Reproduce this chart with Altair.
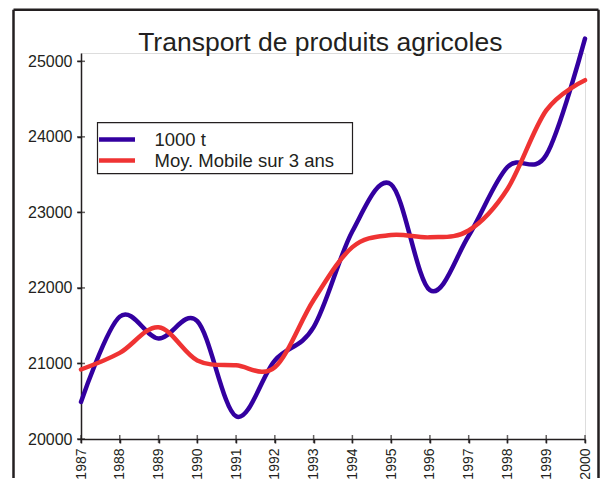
import altair as alt
import pandas as pd

TITLE = "Transport de produits agricoles"
YEARS = [1987, 1988, 1989, 1990, 1991, 1992, 1993, 1994, 1995, 1996, 1997, 1998, 1999, 2000]
TONNES = [20490, 21620, 21330, 21560, 20300, 21040, 21480, 22750, 23370, 21970, 22690, 23600, 23760, 25300]
MOY_MOBILE = [20920, 21140, 21480, 21040, 20975, 20950, 21840, 22540, 22700, 22670, 22760, 23310, 24350, 24750]
SERIES = ["1000 t", "Moy. Mobile sur 3 ans"]
COLORS = ["#3300A0", "#EF3333"]
Y_TICKS = [20000, 21000, 22000, 23000, 24000, 25000]

FONT = "Liberation Sans"
INK = "#231F20"
W, H = 504, 386

blue_df = pd.DataFrame({"year": YEARS, "value": TONNES, "series": SERIES[0]})
red_df = pd.DataFrame({"year": YEARS, "value": MOY_MOBILE, "series": SERIES[1]})

xscale = alt.Scale(domain=[YEARS[0], YEARS[-1]], nice=False, zero=False)
yscale = alt.Scale(domain=[20000, 25110], nice=False, zero=False)
cscale = alt.Scale(domain=SERIES, range=COLORS)

xaxis = alt.Axis(values=YEARS, format="d", labelAngle=270, labelFontSize=14, labelFont=FONT,
                 labelColor=INK, domainColor=INK, domainWidth=1.5, tickColor=INK, tickWidth=1.5,
                 tickSize=4, labelPadding=5, grid=False, title=None, labelOverlap=False,
                 labelFlush=False, labelBound=False)
yaxis = alt.Axis(values=Y_TICKS, format="d", labelFontSize=16, labelFont=FONT, labelColor=INK,
                 domainColor=INK, domainWidth=1.5, tickColor=INK, tickWidth=1.5, tickSize=4,
                 labelPadding=5, grid=False, title=None, labelOverlap=False, labelFlush=False)

legend = alt.Legend(orient="none", legendX=24.5, legendY=75, title=None,
                    padding=0, symbolType="M-2,0H2", symbolSize=324,
                    symbolStrokeWidth=4.5, labelFontSize=18.5, labelFont=FONT, labelColor=INK,
                    labelOffset=26, rowPadding=0, labelLimit=400)

def series_line(df):
    return alt.Chart(df).mark_line(interpolate="cardinal", strokeWidth=4.5, strokeCap="round",
                                   strokeJoin="round").encode(
        x=alt.X("year:Q", scale=xscale, axis=xaxis),
        y=alt.Y("value:Q", scale=yscale, axis=yaxis),
        color=alt.Color("series:N", scale=cscale, legend=legend),
    )

blue = series_line(blue_df)
red = series_line(red_df)

xticks = alt.Chart(pd.DataFrame({"year": YEARS})).mark_tick(
    orient="vertical", size=8, thickness=1.5, color=INK).encode(
    x=alt.X("year:Q", scale=xscale, axis=xaxis), y=alt.value(H))
yticks = alt.Chart(pd.DataFrame({"v": Y_TICKS})).mark_tick(
    orient="horizontal", size=8, thickness=1.5, color=INK).encode(
    y=alt.Y("v:Q", scale=yscale, axis=yaxis), x=alt.value(0))

title = alt.Chart(pd.DataFrame({"label": [TITLE]})).mark_text(
    fontSize=26.5, font=FONT, color=INK, align="center", baseline="alphabetic").encode(
    text="label:N", x=alt.value(239.3), y=alt.value(-2.3))

one = pd.DataFrame({"k": [0]})
legend_box = alt.Chart(one).mark_rect(fill="white", stroke=INK, strokeWidth=1.2).encode(
    x=alt.value(16.5), x2=alt.value(271.5), y=alt.value(69.7), y2=alt.value(120.7))
frame_left = alt.Chart(one).mark_rule(color=INK, strokeWidth=2.5).encode(
    x=alt.value(-67.5), y=alt.value(-43.3), y2=alt.value(425))
frame_top = alt.Chart(one).mark_rule(color=INK, strokeWidth=2.5).encode(
    x=alt.value(-67.5), x2=alt.value(517.5), y=alt.value(-43.3))
frame_right = alt.Chart(one).mark_rule(color=INK, strokeWidth=2.5).encode(
    x=alt.value(517.5), y=alt.value(-43.3), y2=alt.value(425))

chart = alt.layer(legend_box, blue, red, xticks, yticks, title,
                  frame_left, frame_top, frame_right).properties(
    width=W, height=H, padding={"left": 4, "top": 0, "right": 0, "bottom": 0}
).configure_view(stroke=None).configure(background="white")

chart.save("out.html", embed_options={"renderer": "svg", "actions": False})
